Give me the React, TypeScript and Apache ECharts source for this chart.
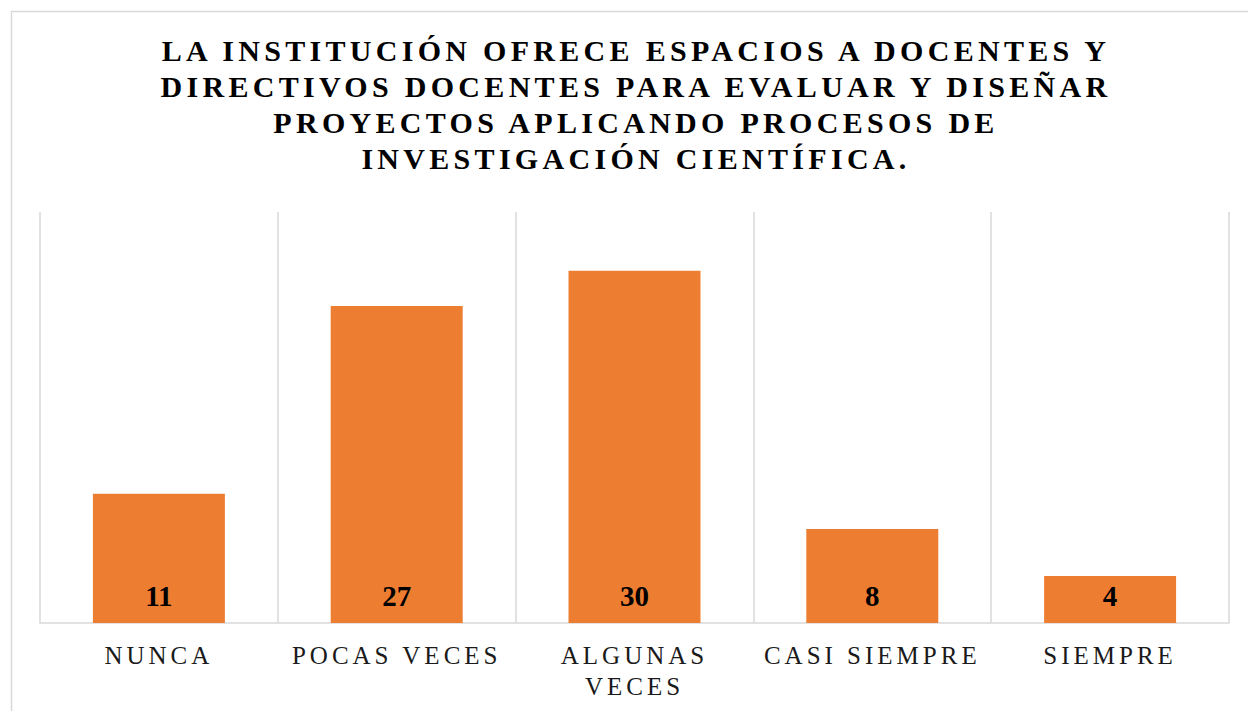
import React, { useEffect, useRef } from "react";
import * as echarts from "echarts";

const titleLines = [
  "LA INSTITUCIÓN OFRECE ESPACIOS A DOCENTES Y",
  "DIRECTIVOS DOCENTES PARA EVALUAR Y DISEÑAR",
  "PROYECTOS APLICANDO PROCESOS DE",
  "INVESTIGACIÓN CIENTÍFICA.",
];
const categories = ["NUNCA", "POCAS VECES", "ALGUNAS VECES", "CASI SIEMPRE", "SIEMPRE"];
const values = [11, 27, 30, 8, 4];

const FONT = '"Liberation Serif", "Times New Roman", serif';

export default function App() {
  const ref = useRef<HTMLDivElement>(null);
  useEffect(() => {
    if (!ref.current) return;
    const chart = echarts.init(ref.current, undefined, { renderer: "svg" });
    chart.setOption({
      animation: false,
      backgroundColor: "#ffffff",
      title: {
        text: titleLines.join("\n"),
        left: 636,
        textAlign: "center",
        top: 32,
        padding: 0,
        textStyle: {
          fontFamily: FONT,
          fontWeight: "bold",
          fontSize: 30,
          lineHeight: 36,
          color: "#000000",
        },
      },
      graphic: [
        {
          type: "rect",
          shape: { x: 11.5, y: 11.5, width: 1260, height: 720 },
          style: { fill: "none", stroke: "#d9d9d9", lineWidth: 1.5 },
          silent: true,
        },
      ],
      grid: { left: 40, right: 19, top: 212, bottom: 88, containLabel: false },
      xAxis: {
        type: "category",
        data: categories,
        axisLine: { show: true, lineStyle: { color: "#d9d9d9", width: 1.5 } },
        axisTick: { show: false },
        splitLine: { show: true, lineStyle: { color: "#d9d9d9", width: 1.5 } },
        axisLabel: {
          interval: 0,
          margin: 17,
          fontFamily: FONT,
          fontSize: 25,
          lineHeight: 31,
          color: "#1a1a1a",
          formatter: (v: string) => (v.length > 12 ? v.replace(" ", "\n") : v),
        },
      },
      yAxis: {
        type: "value",
        min: 0,
        max: 35,
        show: false,
        splitLine: { show: false },
      },
      series: [
        {
          type: "bar",
          data: values,
          barWidth: "55.5%",
          itemStyle: { color: "#ED7D31" },
          label: {
            show: true,
            position: "insideBottom",
            distance: 13,
            fontFamily: FONT,
            fontWeight: "bold",
            fontSize: 29,
            color: "#000000",
          },
        },
      ],
    });
    return () => chart.dispose();
  }, []);
  return (
    <>
      <style>{`
        #chartbox text[style*="30px"] { letter-spacing: 4.3px; }
        #chartbox text[style*="25px"] { letter-spacing: 4px; }
      `}</style>
      <div
        id="chartbox"
        ref={ref}
        style={{ position: "fixed", left: 0, top: 0, width: 1248, height: 711 }}
      />
    </>
  );
}
